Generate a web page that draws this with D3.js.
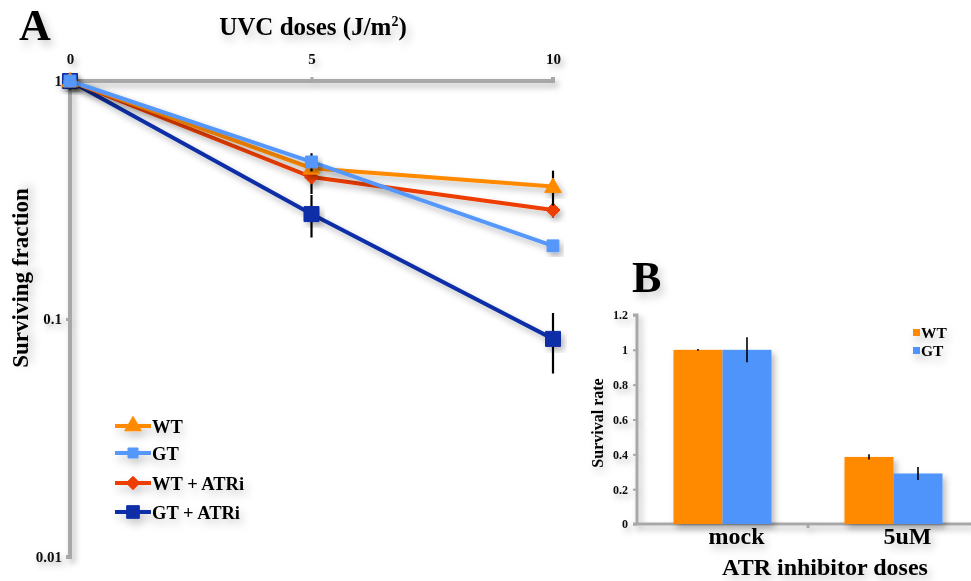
<!DOCTYPE html>
<html>
<head>
<meta charset="utf-8">
<script src="https://cdn.jsdelivr.net/npm/d3@7/dist/d3.min.js"></script>
<style>
  html, body { margin: 0; padding: 0; background: #fff; }
  svg { display: block; font-family: "Liberation Serif", "Times New Roman", serif; font-weight: bold; }
</style>
</head>
<body>
<svg id="fig" width="971" height="581"></svg>
<script>
// Panel A: UVC survival (log scale)
const doses = [0, 5, 10];
const doseTicks = [0, 5, 10];
const survTicks = [1, 0.1, 0.01];
const survTickLabels = ["1", "0.1", "0.01"];
const seriesNames = ["WT", "GT", "WT + ATRi", "GT + ATRi"];
const wtVals = [1, 0.43, 0.36];
const wtErr = [0.02, 0.02, 0.06];
const gtVals = [1, 0.457, 0.203];
const gtErr = [0.02, 0.04, 0.01];
const wtAtrVals = [1, 0.395, 0.287];
const wtAtrErr = [0.02, 0.06, 0.02];
const gtAtrVals = [1, 0.276, 0.0825];
const gtAtrErr = [0.08, 0.056, 0.0235];

// Panel B: ATR inhibitor survival
const atrDoses = ["mock", "5uM"];
const barGroups = ["WT", "GT"];
const barWt = [1.0, 0.385];
const barWtErr = [0.005, 0.015];
const barGt = [1.0, 0.29];
const barGtErr = [0.072, 0.037];
const rateTicks = [0, 0.2, 0.4, 0.6, 0.8, 1, 1.2];

const colors = {
  "WT": "#ff8a00",
  "GT": "#5597fb",
  "WT + ATRi": "#ee3c00",
  "GT + ATRi": "#0a2ea6"
};

// rotated-square diamond
const symbolRhombus = {
  draw(ctx, size) {
    const r = Math.sqrt(size / 2);
    ctx.moveTo(0, -r); ctx.lineTo(r, 0); ctx.lineTo(0, r); ctx.lineTo(-r, 0); ctx.closePath();
  }
};

const svg = d3.select("#fig");
const defs = svg.append("defs");
defs.append("filter").attr("id", "shadow").attr("x", "-20%").attr("y", "-20%").attr("width", "160%").attr("height", "160%")
  .append("feDropShadow").attr("dx", 3).attr("dy", 4).attr("stdDeviation", 3)
  .attr("flood-color", "#000").attr("flood-opacity", 0.28);
defs.append("filter").attr("id", "tshadow").attr("x", "-20%").attr("y", "-30%").attr("width", "150%").attr("height", "190%")
  .append("feDropShadow").attr("dx", 3).attr("dy", 5).attr("stdDeviation", 4)
  .attr("flood-color", "#000").attr("flood-opacity", 0.22);

// ---------- Panel A ----------
const x = d3.scaleLinear().domain([0, 10]).range([70, 553]);
const y = d3.scaleLog().domain([0.01, 1]).range([557, 81]);

const A = svg.append("g");

A.append("text").attr("x", 19).attr("y", 40).attr("font-size", 44).attr("filter", "url(#tshadow)").text("A");
A.append("text").attr("x", 313).attr("y", 35).attr("text-anchor", "middle").attr("font-size", 25)
  .attr("filter", "url(#tshadow)")
  .html('UVC doses (J/m<tspan dy="-9" font-size="14">2</tspan><tspan dy="9">)</tspan>');

// axes
const axisG = A.append("g").attr("filter", "url(#shadow)");
const topAxis = d3.axisTop(x).tickValues(doseTicks).tickSize(4).tickFormat(d3.format("d"));
const topG = axisG.append("g").attr("transform", `translate(0,${y(1)})`).call(topAxis);
const leftAxis = d3.axisLeft(y).tickValues(survTicks).tickSize(4).tickFormat((d, i) => survTickLabels[i]);
const leftG = axisG.append("g").attr("transform", `translate(${x(0)},0)`).call(leftAxis);
[topG, leftG].forEach(g => {
  g.select(".domain").attr("stroke", "#a8a8a8").attr("stroke-width", 4);
  g.selectAll(".tick line").attr("stroke", "#a8a8a8").attr("stroke-width", 3);
  g.selectAll(".tick text").attr("fill", "#111").attr("font-size", 15)
    .attr("font-family", "Liberation Serif, serif").attr("font-weight", "bold");
});
topG.select(".domain").attr("d", `M${x(0)},0H${x(10)}V-4`);
topG.selectAll(".tick text").attr("dy", "-10");
leftG.select(".domain").attr("d", `M0,${y(1)}V${y(0.01)}H-4`);
leftG.selectAll(".tick text").attr("dx", "-1");
leftG.selectAll(".tick").filter(d => d === 1).select("line").remove();

A.append("text").attr("transform", `translate(28,${278}) rotate(-90)`).attr("text-anchor", "middle")
  .attr("font-size", 23).attr("filter", "url(#tshadow)").text("Surviving fraction");

const series = [
  { name: "GT + ATRi", vals: gtAtrVals, err: gtAtrErr, sym: d3.symbolSquare, size: 225 },
  { name: "WT + ATRi", vals: wtAtrVals, err: wtAtrErr, sym: symbolRhombus, size: 100 },
  { name: "WT", vals: wtVals, err: wtErr, sym: d3.symbolTriangle, size: 120 },
  { name: "GT", vals: gtVals, err: gtErr, sym: d3.symbolSquare, size: 140 }
];

const line = d3.line().x(d => x(d.d)).y(d => y(d.v));
const plotG = A.append("g");

series.forEach(s => {
  const pts = doses.map((d, i) => ({ d, v: s.vals[i], e: s.err[i] }));
  const g = plotG.append("g");
  g.append("path").datum(pts).attr("d", line).attr("fill", "none")
    .attr("stroke", colors[s.name]).attr("stroke-width", 4).attr("filter", "url(#shadow)");
  g.selectAll("line.err").data(pts).join("line").attr("class", "err")
    .attr("x1", d => x(d.d)).attr("x2", d => x(d.d))
    .attr("y1", d => y(d.v + d.e)).attr("y2", d => y(Math.max(d.v - d.e, 0.001)))
    .attr("stroke", "#000").attr("stroke-width", 2.2);
  g.selectAll("path.mk").data(pts).join("path").attr("class", "mk")
    .attr("transform", d => `translate(${x(d.d)},${y(d.v) + (s.sym === d3.symbolTriangle ? 1 : 0)})`)
    .attr("d", d3.symbol().type(s.sym).size(s.size))
    .attr("fill", colors[s.name]).attr("stroke", colors[s.name]).attr("stroke-width", 1)
    .attr("stroke-linejoin", "round").attr("filter", "url(#shadow)");
});

// legend A
const legRows = [
  { name: "WT", sym: d3.symbolTriangle, size: 120, y: 426 },
  { name: "GT", sym: d3.symbolSquare, size: 100, y: 453 },
  { name: "WT + ATRi", sym: symbolRhombus, size: 90, y: 483 },
  { name: "GT + ATRi", sym: d3.symbolSquare, size: 160, y: 512 }
];
const leg = A.append("g").attr("filter", "url(#tshadow)");
legRows.forEach(r => {
  leg.append("line").attr("x1", 115).attr("x2", 151).attr("y1", r.y).attr("y2", r.y)
    .attr("stroke", colors[r.name]).attr("stroke-width", 4);
  leg.append("path").attr("transform", `translate(133,${r.y})`)
    .attr("d", d3.symbol().type(r.sym).size(r.size)).attr("fill", colors[r.name])
    .attr("stroke", colors[r.name]).attr("stroke-linejoin", "round");
  leg.append("text").attr("x", 152).attr("y", r.y + 6.5).attr("font-size", 18.5).text(r.name);
});

// ---------- Panel B ----------
const B = svg.append("g");
const yb = d3.scaleLinear().domain([0, 1.2]).range([524, 315]);
const xb = d3.scaleBand().domain(atrDoses).range([637, 979]);
const xg = d3.scaleBand().domain(barGroups).range([0, 98]);
const barColors = { "WT": "#ff8a00", "GT": "#4f94fb" };

B.append("text").attr("x", 632).attr("y", 292).attr("font-size", 44).attr("filter", "url(#tshadow)").text("B");

const bAxisG = B.append("g").attr("filter", "url(#shadow)");
const yAxisB = d3.axisLeft(yb).tickValues(rateTicks).tickSize(4).tickFormat(d => d3.format("")(d));
const ybG = bAxisG.append("g").attr("transform", "translate(637,0)").call(yAxisB);
ybG.select(".domain").attr("d", `M-4,${yb(1.2)}H0V${yb(0)}`);
const xbG = bAxisG.append("g").attr("transform", `translate(0,${yb(0)})`);
xbG.append("line").attr("x1", 633).attr("x2", 971).attr("y1", 0).attr("y2", 0);
xbG.append("line").attr("x1", xb("5uM")).attr("x2", xb("5uM")).attr("y1", 0).attr("y2", 4);
xbG.selectAll("line").attr("stroke", "#a8a8a8").attr("stroke-width", 3);
ybG.select(".domain").attr("stroke", "#a8a8a8").attr("stroke-width", 3);
ybG.selectAll(".tick line").attr("stroke", "#a8a8a8").attr("stroke-width", 2);
ybG.selectAll(".tick text").attr("fill", "#111").attr("font-size", 12)
  .attr("font-family", "Liberation Serif, serif").attr("font-weight", "bold").attr("dx", "-2");

const barData = [];
atrDoses.forEach((c, i) => {
  barData.push({ c, g: "WT", v: barWt[i], e: barWtErr[i] });
  barData.push({ c, g: "GT", v: barGt[i], e: barGtErr[i] });
});
const bx = d => xb(d.c) + xb.bandwidth() / 2 - 49 + xg(d.g);
B.append("g").attr("filter", "url(#shadow)").selectAll("rect").data(barData).join("rect")
  .attr("x", bx).attr("width", xg.bandwidth())
  .attr("y", d => yb(d.v)).attr("height", d => yb(0) - yb(d.v))
  .attr("fill", d => barColors[d.g]);
B.append("g").selectAll("line").data(barData).join("line")
  .attr("x1", d => bx(d) + xg.bandwidth() / 2).attr("x2", d => bx(d) + xg.bandwidth() / 2)
  .attr("y1", d => yb(d.v + d.e)).attr("y2", d => yb(d.v - d.e))
  .attr("stroke", "#000").attr("stroke-width", 1.6);

const bText = B.append("g").attr("filter", "url(#tshadow)");
bText.selectAll("text.cat").data(atrDoses).join("text").attr("class", "cat")
  .attr("x", d => xb(d) + xb.bandwidth() / 2 + 14).attr("y", 544).attr("text-anchor", "middle")
  .attr("font-size", 24).text(d => d);
bText.append("text").attr("x", 825).attr("y", 575).attr("text-anchor", "middle").attr("font-size", 24)
  .text("ATR inhibitor doses");
bText.append("text").attr("transform", "translate(603,423) rotate(-90)").attr("text-anchor", "middle")
  .attr("font-size", 16).text("Survival rate");

barGroups.forEach((g, i) => {
  const ly = 333 + i * 18;
  bText.append("rect").attr("x", 913).attr("y", ly - 4).attr("width", 7).attr("height", 7).attr("fill", barColors[g]);
  bText.append("text").attr("x", 921).attr("y", ly + 5).attr("font-size", 15.5).text(g);
});
</script>
</body>
</html>
